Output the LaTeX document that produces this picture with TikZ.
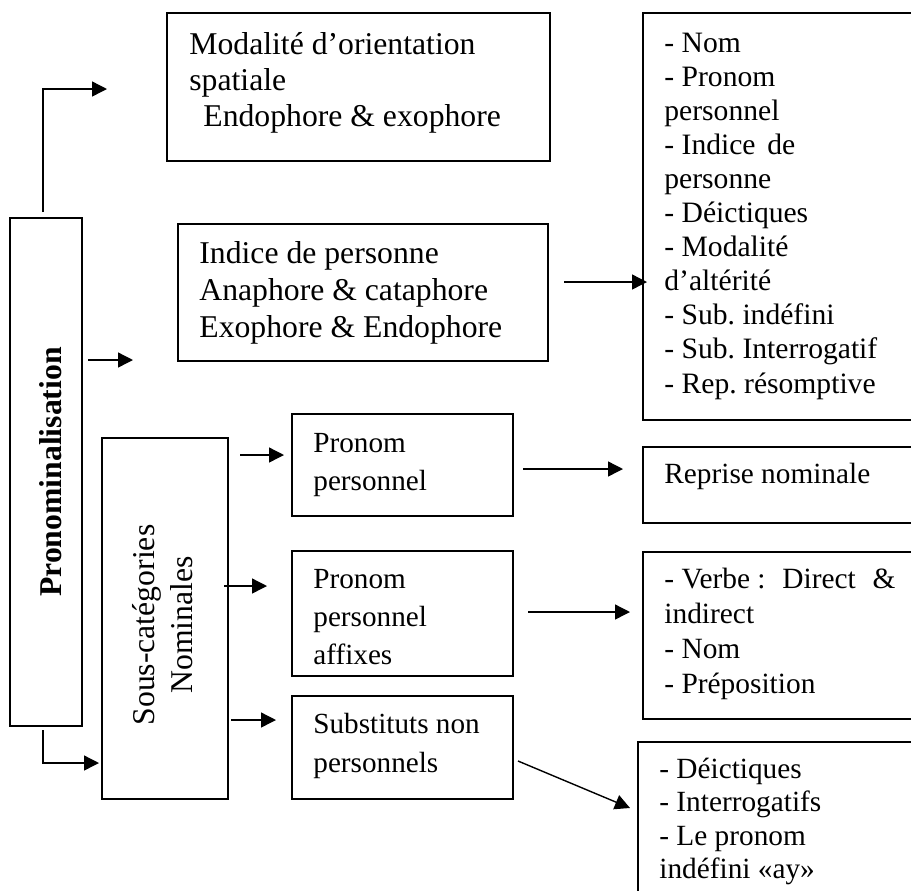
\documentclass[tikz,border=0pt]{standalone}
\usepackage{fontspec}
\setmainfont{Liberation Serif}
\usetikzlibrary{arrows.meta,fit}
\frenchspacing
\begin{document}
\begin{tikzpicture}[x=0.5pt,y=-0.5pt,
  box/.style={draw, line width=0.8pt, inner sep=0pt},
  txt/.style={anchor=base west, inner sep=0pt, align=left},
  arr/.style={line width=0.7pt, -{Triangle[length=7.5pt,width=7.5pt]}}]
\useasboundingbox (0,0) rectangle (911,890);
\clip (0,0) rectangle (911,890);

% boxes (text nodes are placed by the baseline of their last line)
\node[box, fit={(167,13)(550,161)}] (mod) {};
\node[txt, font=\fontsize{15.85}{18}\selectfont] (modt) at (189,126)
  {Modalité d’orientation\\spatiale\\\hspace*{7pt}Endophore \& exophore};

\node[box, fit={(10,218)(82,726)}] (pron) {};
\node[rotate=90, inner sep=0pt, font=\bfseries\fontsize{15.85}{18}\selectfont] (percent) at (51,472) {Pronominalisation};

\node[box, fit={(178,224)(548,361)}] (ind) {};
\node[txt, font=\fontsize{15.85}{18.5}\selectfont] (indt) at (199,337)
  {Indice de personne\\Anaphore \& cataphore\\Exophore \& Endophore};

\node[box, fit={(643,13)(940,420)}] (list) {};
\node[txt, font=\fontsize{14.8}{17.05}\selectfont] (listt) at (664,393)
  {- Nom\\- Pronom\\personnel\\- Indice\hspace{0.4em}de\\personne\\- Déictiques\\- Modalité\\d’altérité\\- Sub. indéfini\\- Sub. Interrogatif\\- Rep. résomptive};

\node[box, fit={(102,438)(228,799)}] (sous) {};
\node[rotate=90, align=center, inner sep=0pt, font=\fontsize{15.85}{19}\selectfont] (soust) at (163,625)
  {Sous-catégories\\Nominales};

\node[box, fit={(292,414)(513,516)}] (pp) {};
\node[txt, font=\fontsize{14.6}{19}\selectfont] (ppt) at (313,490) {Pronom\\personnel};

\node[box, fit={(292,551)(513,676)}] (ppa) {};
\node[txt, font=\fontsize{14.6}{19}\selectfont] (ppat) at (313,664) {Pronom\\personnel\\affixes};

\node[box, fit={(292,696)(513,799)}] (sub) {};
\node[txt, font=\fontsize{14.6}{19.5}\selectfont] (subt) at (313,772) {Substituts non\\personnels};

\node[box, fit={(643,447)(940,523)}] (rep) {};
\node[txt, font=\fontsize{14.65}{17}\selectfont] (rept) at (664,483) {Reprise nominale};

\node[box, fit={(643,552)(940,719)}] (verbe) {};
\node[txt, font=\fontsize{14.7}{17.5}\selectfont] (verbet) at (664,693)
  {\makebox[115.5pt][s]{- Verbe : \hfill Direct \hfill \&}\\indirect\\- Nom\\- Préposition};

\node[box, fit={(638,742)(940,960)}] (deic) {};
\node[txt, font=\fontsize{14.65}{16.75}\selectfont] (deict) at (659,878.5)
  {- Déictiques\\- Interrogatifs\\- Le pronom\\indéfini «ay»};

% connector end points
\coordinate (a1s) at (43,212); \coordinate (a1m) at (43,89); \coordinate (a1e) at (107,89);
\coordinate (a2s) at (88,360); \coordinate (a2e) at (133,360);
\coordinate (a3s) at (564,282); \coordinate (a3e) at (647,282);
\coordinate (a4s) at (240,455); \coordinate (a4e) at (284,455);
\coordinate (a5s) at (224,586); \coordinate (a5e) at (267,586);
\coordinate (a6s) at (231,720); \coordinate (a6e) at (276,720);
\coordinate (a7s) at (43,730); \coordinate (a7m) at (43,763); \coordinate (a7e) at (99,763);
\coordinate (a8s) at (523,469); \coordinate (a8e) at (623,469);
\coordinate (a9s) at (528,612); \coordinate (a9e) at (630,612);
\coordinate (a10s) at (518,761); \coordinate (a10e) at (630,808);

\draw[arr] (a1s) -- (a1m) -- (a1e);
\draw[arr] (a2s) -- (a2e);
\draw[arr] (a3s) -- (a3e);
\draw[arr] (a4s) -- (a4e);
\draw[arr] (a5s) -- (a5e);
\draw[arr] (a6s) -- (a6e);
\draw[arr] (a7s) -- (a7m) -- (a7e);
\draw[arr] (a8s) -- (a8e);
\draw[arr] (a9s) -- (a9e);
\draw[arr] (a10s) -- (a10e);
\end{tikzpicture}
\end{document}
